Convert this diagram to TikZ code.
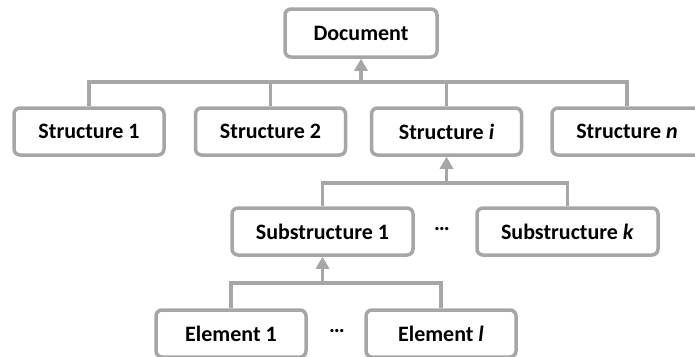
\documentclass[tikz,border=0pt]{standalone}
\usepackage{fontspec}
\setmainfont{Carlito}
\usepackage{xcolor}
\usetikzlibrary{arrows.meta, positioning}
\definecolor{linegray}{HTML}{A6A6A6}

\begin{document}
\begin{tikzpicture}[x=1pt, y=-1pt,
            box/.style={
            draw=linegray,
            line width=3.5pt,
            rounded corners=6pt,
            fill=white,
            minimum width=150pt,
            minimum height=47pt,
            font=\fontsize{22}{24}\selectfont\bfseries,
            align=center},
            wide/.style={minimum width=181pt},
            link/.style={draw=linegray, line width=3.5pt},
            up/.style={link, -{Triangle[length=12pt, width=13pt]}},
            dots/.style={font=\fontsize{22}{24}\selectfont\bfseries}]
            \useasboundingbox (0,0) rectangle (695,356);
            % top level
            \node[box, minimum width=152pt, minimum height=48pt] (doc) at (361,33) {Document};
            \node[box] (s1) at (89,131.5) {Structure 1};
            \node[box] (s2) at (270.5,131.5) {Structure 2};
            \node[box] (si) at (446.5,131.5) {Structure \textit{i}};
            \node[box] (sn) at (627,131.5) {Structure \textit{n}};
            % second level
            \node[box, wide] (sub1) at (322.5,231.5) {Substructure 1};
            \node[box, wide] (subk) at (567.5,231.5) {Substructure \textit{k}};
            \node[dots] (d1) at (442,229) {\dots};
            % third level
            \node[box] (e1) at (231,333.5) {Element 1};
            \node[box] (el) at (441,333.5) {Element \textit{l}};
            \node[dots] (d2) at (337,331) {\dots};
            % connectors
            \coordinate (j1) at (361,82);
            \coordinate (j2) at (446.5,183);
            \coordinate (j3) at (322.5,283);
            \draw[link] (s1.north) |- (j1) -| (sn.north);
            \draw[link] (s2.north) -- (s2.north |- j1);
            \draw[link] (si.north) -- (si.north |- j1);
            \draw[up] (j1) -- (doc.south);
            \draw[link] (sub1.north) |- (j2) -| (subk.north);
            \draw[up] (j2) -- (si.south);
            \draw[link] (e1.north) |- (j3) -| (el.north);
            \draw[up] (j3) -- (sub1.south);
        \end{tikzpicture}
\end{document}
